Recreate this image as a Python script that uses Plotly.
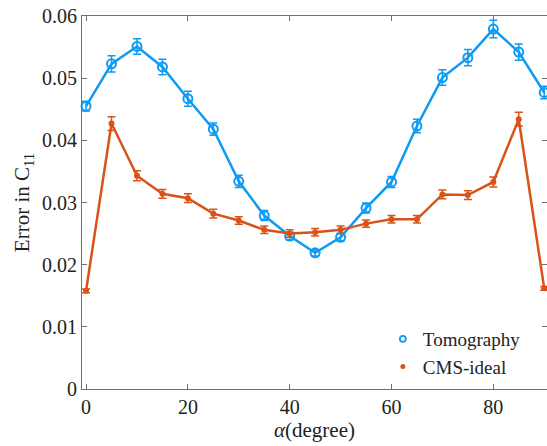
import plotly.graph_objects as go

alpha = [0, 5, 10, 15, 20, 25, 30, 35, 40, 45, 50, 55, 60, 65, 70, 75, 80, 85, 90]

tomo = [0.0455, 0.0523, 0.0551, 0.0518, 0.0467, 0.0418, 0.0334, 0.0279, 0.0246, 0.0219,
        0.0244, 0.0291, 0.0333, 0.0423, 0.0501, 0.0533, 0.0579, 0.0542, 0.0477]
tomo_err = [0.0008, 0.0013, 0.00125, 0.00125, 0.0012, 0.001, 0.001, 0.0008, 0.0006, 0.0005,
            0.0006, 0.0008, 0.0009, 0.0011, 0.00125, 0.0013, 0.0014, 0.0013, 0.001]

cms = [0.0158, 0.0427, 0.0343, 0.0314, 0.0307, 0.0282, 0.0271, 0.0256, 0.0250, 0.0252,
       0.0256, 0.0266, 0.0273, 0.0273, 0.0313, 0.0312, 0.0333, 0.0434, 0.0162]
cms_err = [0.0003, 0.0011, 0.0008, 0.0007, 0.0007, 0.0007, 0.0006, 0.0006, 0.0006, 0.0006,
           0.0006, 0.0006, 0.0006, 0.0006, 0.0007, 0.0007, 0.0008, 0.0011, 0.0003]

ytick_vals = [0, 0.01, 0.02, 0.03, 0.04, 0.05, 0.06]
ytick_text = ["0", "0.01", "0.02", "0.03", "0.04", "0.05", "0.06"]
xtick_vals = [0, 20, 40, 60, 80]

blue = "#0d9bf5"
orange = "#d95319"
font = "Liberation Serif, Times New Roman, serif"

fig = go.Figure()

fig.add_trace(go.Scatter(
    x=alpha, y=tomo,
    mode="lines+markers",
    showlegend=False, cliponaxis=False,
    line=dict(color=blue, width=2.5),
    marker=dict(symbol="circle-open", size=9, color=blue, line=dict(width=2)),
    error_y=dict(type="data", array=tomo_err, color=blue, thickness=1.5, width=4)
))

fig.add_trace(go.Scatter(
    x=alpha, y=cms,
    mode="lines+markers",
    showlegend=False, cliponaxis=False,
    line=dict(color=orange, width=2.5),
    marker=dict(symbol="circle", size=6, color=orange),
    error_y=dict(type="data", array=cms_err, color=orange, thickness=1.5, width=4)
))

# legend entries show small markers only, like the original
fig.add_trace(go.Scatter(x=[None], y=[None], mode="markers", name="Tomography",
                         marker=dict(symbol="circle-open", size=6, color=blue, line=dict(width=1.8))))
fig.add_trace(go.Scatter(x=[None], y=[None], mode="markers", name="CMS-ideal",
                         marker=dict(symbol="circle", size=5, color=orange)))

axis_style = dict(
    showgrid=False, zeroline=False, automargin=False, ticklabeloverflow="allow",
    showline=True, linecolor="#707070", linewidth=1, mirror="ticks",
    ticks="inside", ticklen=5, tickcolor="#707070",
    tickfont=dict(family=font, size=20, color="#222"),
)

fig.update_xaxes(
    range=[-0.8, 90.55], tickvals=xtick_vals,
    title=dict(text="<i>α</i>(degree)", font=dict(family=font, size=21, color="#222"), standoff=0),
    **axis_style
)
fig.update_yaxes(
    range=[0, 0.06], tickvals=ytick_vals, ticktext=ytick_text,
    title=dict(text="Error in C<sub>11</sub>", font=dict(family=font, size=21, color="#222"), standoff=6),
    **axis_style
)

fig.update_layout(
    width=547, height=446,
    margin=dict(l=82, r=0, t=16, b=57),
    plot_bgcolor="white", paper_bgcolor="white",
    font=dict(family=font, color="#222"),
    legend=dict(x=0.647, y=0.185, xanchor="left", yanchor="top",
                bgcolor="rgba(0,0,0,0)", font=dict(family=font, size=19),
                itemwidth=30, tracegroupgap=0),
)

# drop the default 8px body margin so the figure fills the window
fig.write_html("out.html", config={"displayModeBar": False},
               post_script="document.body.style.margin='0';")
